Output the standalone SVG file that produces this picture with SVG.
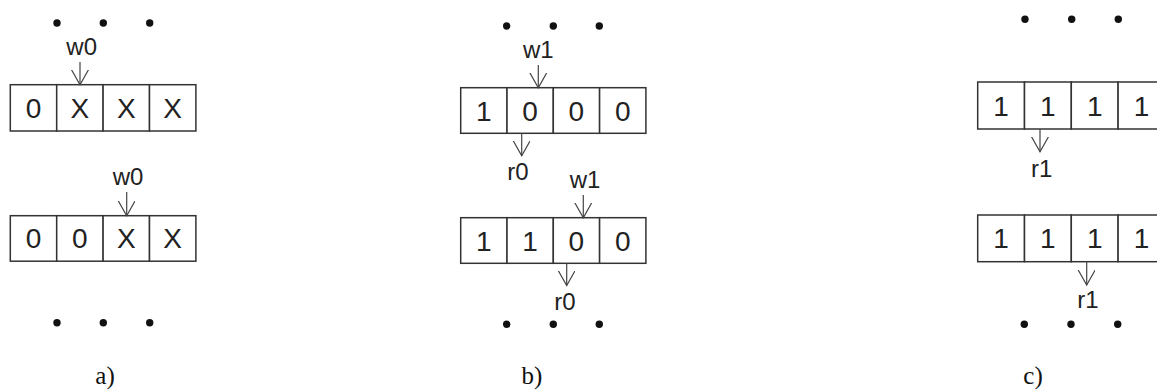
<svg xmlns="http://www.w3.org/2000/svg" width="1157" height="390" viewBox="0 0 1157 390">
  <style>
    .cell { fill: #ffffff; stroke: #333333; stroke-width: 1.5; }
    .val { font-family: "Liberation Sans", Arial, sans-serif; font-size: 28px; fill: #222222; text-anchor: middle; }
    .lbl { font-family: "Liberation Sans", Arial, sans-serif; font-size: 24px; fill: #222222; text-anchor: middle; }
    .cap { font-family: "Liberation Serif", "Times New Roman", serif; font-size: 25px; fill: #111111; text-anchor: middle; }
    .dot { fill: #111111; }
    .arrow { stroke: #444444; stroke-width: 1.2; fill: none; marker-end: url(#vhead); }
  </style>
  <defs>
    <marker id="vhead" markerUnits="userSpaceOnUse" markerWidth="20" markerHeight="20" refX="15" refY="8.5" orient="auto">
      <path d="M0,0 L15,8.5 L0,17" fill="none" stroke="#444444" stroke-width="1.2"/>
    </marker>
  </defs>
  <rect width="1157" height="390" fill="#ffffff"/>

  <!-- panel a -->
  <g id="a-dots-top">
    <circle class="dot" cx="57" cy="23" r="3.7"/><circle class="dot" cx="103.3" cy="23" r="3.7"/><circle class="dot" cx="149.7" cy="23" r="3.7"/>
  </g>
  <g id="a-row1">
    <rect class="cell" x="10.3" y="84.7" width="46.4" height="46.3"/>
    <rect class="cell" x="56.7" y="84.7" width="46.4" height="46.3"/>
    <rect class="cell" x="103.1" y="84.7" width="46.4" height="46.3"/>
    <rect class="cell" x="149.5" y="84.7" width="46.4" height="46.3"/>
    <text class="val" x="33.5" y="117.8">0</text>
    <text class="val" x="79.9" y="117.8">X</text>
    <text class="val" x="126.3" y="117.8">X</text>
    <text class="val" x="172.7" y="117.8">X</text>
  </g>
  <g id="a-w0-top"><text class="lbl" x="81.7" y="55">w0</text></g>
  <g id="a-row2">
    <rect class="cell" x="10.3" y="215.7" width="46.4" height="45.5"/>
    <rect class="cell" x="56.7" y="215.7" width="46.4" height="45.5"/>
    <rect class="cell" x="103.1" y="215.7" width="46.4" height="45.5"/>
    <rect class="cell" x="149.5" y="215.7" width="46.4" height="45.5"/>
    <text class="val" x="33.5" y="248.4">0</text>
    <text class="val" x="79.9" y="248.4">0</text>
    <text class="val" x="126.3" y="248.4">X</text>
    <text class="val" x="172.7" y="248.4">X</text>
  </g>
  <g id="a-w0-bottom"><text class="lbl" x="128" y="185">w0</text></g>
  <g id="a-dots-bottom">
    <circle class="dot" cx="57" cy="322.7" r="3.7"/><circle class="dot" cx="103.3" cy="322.7" r="3.7"/><circle class="dot" cx="149.7" cy="322.7" r="3.7"/>
  </g>
  <g id="a-caption"><text class="cap" x="105" y="384">a)</text></g>

  <!-- panel b -->
  <g id="b-dots-top">
    <circle class="dot" cx="506.7" cy="26" r="3.7"/><circle class="dot" cx="553.3" cy="26" r="3.7"/><circle class="dot" cx="599.3" cy="26" r="3.7"/>
  </g>
  <g id="b-w1-top"><text class="lbl" x="538.3" y="58">w1</text></g>
  <g id="b-row1">
    <rect class="cell" x="460.7" y="87.7" width="46.3" height="45.6"/>
    <rect class="cell" x="507" y="87.7" width="46.3" height="45.6"/>
    <rect class="cell" x="553.3" y="87.7" width="46.3" height="45.6"/>
    <rect class="cell" x="599.6" y="87.7" width="46.3" height="45.6"/>
    <text class="val" x="483.8" y="120.5">1</text>
    <text class="val" x="530.1" y="120.5">0</text>
    <text class="val" x="576.4" y="120.5">0</text>
    <text class="val" x="622.7" y="120.5">0</text>
  </g>
  <g id="b-r0-top"><text class="lbl" x="518" y="180">r0</text></g>
  <g id="b-w1-bottom"><text class="lbl" x="585" y="188">w1</text></g>
  <g id="b-row2">
    <rect class="cell" x="460.7" y="217.7" width="46.3" height="45.6"/>
    <rect class="cell" x="507" y="217.7" width="46.3" height="45.6"/>
    <rect class="cell" x="553.3" y="217.7" width="46.3" height="45.6"/>
    <rect class="cell" x="599.6" y="217.7" width="46.3" height="45.6"/>
    <text class="val" x="483.8" y="250.5">1</text>
    <text class="val" x="530.1" y="250.5">1</text>
    <text class="val" x="576.4" y="250.5">0</text>
    <text class="val" x="622.7" y="250.5">0</text>
  </g>
  <g id="b-r0-bottom"><text class="lbl" x="565" y="310">r0</text></g>
  <g id="b-dots-bottom">
    <circle class="dot" cx="506.7" cy="324.3" r="3.7"/><circle class="dot" cx="553.3" cy="324.3" r="3.7"/><circle class="dot" cx="599.3" cy="324.3" r="3.7"/>
  </g>
  <g id="b-caption"><text class="cap" x="532" y="384">b)</text></g>

  <!-- panel c -->
  <g id="c-dots-top">
    <circle class="dot" cx="1025" cy="19.3" r="3.7"/><circle class="dot" cx="1071.7" cy="19.3" r="3.7"/><circle class="dot" cx="1118.3" cy="19.3" r="3.7"/>
  </g>
  <g id="c-row1">
    <rect class="cell" x="977.7" y="82" width="46.8" height="47"/>
    <rect class="cell" x="1024.5" y="82" width="46.8" height="47"/>
    <rect class="cell" x="1071.3" y="82" width="46.8" height="47"/>
    <rect class="cell" x="1118.1" y="82" width="46.8" height="47"/>
    <text class="val" x="1001.1" y="115.5">1</text>
    <text class="val" x="1047.9" y="115.5">1</text>
    <text class="val" x="1094.7" y="115.5">1</text>
    <text class="val" x="1141.5" y="115.5">1</text>
  </g>
  <g id="c-r1-top"><text class="lbl" x="1041.7" y="176.7">r1</text></g>
  <g id="c-row2">
    <rect class="cell" x="977.7" y="215" width="46.8" height="46.7"/>
    <rect class="cell" x="1024.5" y="215" width="46.8" height="46.7"/>
    <rect class="cell" x="1071.3" y="215" width="46.8" height="46.7"/>
    <rect class="cell" x="1118.1" y="215" width="46.8" height="46.7"/>
    <text class="val" x="1001.1" y="248.4">1</text>
    <text class="val" x="1047.9" y="248.4">1</text>
    <text class="val" x="1094.7" y="248.4">1</text>
    <text class="val" x="1141.5" y="248.4">1</text>
  </g>
  <g id="c-r1-bottom"><text class="lbl" x="1088" y="308">r1</text></g>
  <g id="c-dots-bottom">
    <circle class="dot" cx="1024.3" cy="324.3" r="3.7"/><circle class="dot" cx="1071" cy="324.3" r="3.7"/><circle class="dot" cx="1117.7" cy="324.3" r="3.7"/>
  </g>
  <g id="c-caption"><text class="cap" x="1033" y="384">c)</text></g>

  <!-- access arrows -->
  <g id="connectors">
    <line class="arrow" x1="80" y1="62" x2="80" y2="84.7"/>
    <line class="arrow" x1="126.7" y1="192" x2="126.7" y2="215.7"/>
    <line class="arrow" x1="538.3" y1="65" x2="538.3" y2="87.7"/>
    <line class="arrow" x1="521.7" y1="133.3" x2="521.7" y2="155.7"/>
    <line class="arrow" x1="583.3" y1="195" x2="583.3" y2="217.7"/>
    <line class="arrow" x1="566.7" y1="263.3" x2="566.7" y2="285.5"/>
    <line class="arrow" x1="1040" y1="129" x2="1040" y2="151.7"/>
    <line class="arrow" x1="1086.7" y1="261.7" x2="1086.7" y2="285"/>
  </g>
</svg>
